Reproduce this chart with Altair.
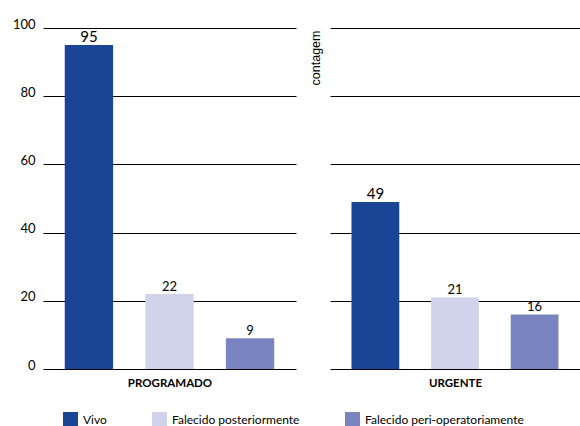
import altair as alt
import pandas as pd

groups = ["PROGRAMADO", "URGENTE"]
categories = ["Vivo", "Falecido posteriormente", "Falecido peri-operatoriamente"]
programado = [95, 22, 9]
urgente = [49, 21, 16]
colors = ["#1a4496", "#d0d3eb", "#7a84c0"]
y_ticks = [0, 20, 40, 60, 80, 100]

rows = []
for g, vals in zip(groups, [programado, urgente]):
    for c, v in zip(categories, vals):
        rows.append({"grupo": g, "cat": c, "contagem": v})
df = pd.DataFrame(rows)

legend = alt.Legend(orient="none", legendX=20, legendY=384, direction="horizontal",
                    title=None, symbolType="square", symbolSize=225, symbolStrokeWidth=0,
                    labelFont="Lato", labelFontSize=12, columnPadding=45, labelOffset=5,
                    labelColor="black", labelLimit=300)


def panel(g, first, width):
    base = alt.Chart(df).transform_filter(alt.datum.grupo == g)
    x = alt.X("cat:N", sort=categories,
              scale=alt.Scale(paddingInner=0.4, paddingOuter=0.27),
              axis=alt.Axis(labels=False, ticks=False, domain=False, title=g,
                            titleFont="Lato", titleFontWeight="bold", titleFontSize=11.5,
                            titlePadding=8, titleColor="black"))
    if first:
        yaxis = alt.Axis(values=y_ticks, title=None, labelBaseline="alphabetic",
                         labelPadding=8, ticks=False, domain=False, grid=True,
                         gridColor="black", gridOpacity=1, labelFont="Lato", labelFontSize=13,
                         minExtent=38, maxExtent=38, labelColor="black")
    else:
        yaxis = alt.Axis(values=y_ticks, labels=False, ticks=False, domain=False, grid=True,
                         gridColor="black", gridOpacity=1, title="contagem", titleX=-15,
                         titleY=2, titleAngle=270, titleAlign="right", titleBaseline="middle",
                         titleFont="Liberation Sans", titleFontWeight="normal",
                         titleFontSize=12.5, titleColor="black")
    y = alt.Y("contagem:Q", scale=alt.Scale(domain=[0, 100]), axis=yaxis)
    bars = base.mark_bar().encode(
        x=x, y=y,
        color=alt.Color("cat:N", sort=categories,
                        scale=alt.Scale(domain=categories, range=colors), legend=legend))
    text = base.mark_text(dy=-3, baseline="alphabetic", font="Lato", color="black").encode(
        x=alt.X("cat:N", sort=categories),
        y=alt.Y("contagem:Q"),
        text="contagem:Q",
        size=alt.condition("datum.cat == 'Vivo'", alt.value(15), alt.value(13)))
    return alt.layer(bars, text).properties(width=width, height=341)


chart = alt.hconcat(panel("PROGRAMADO", True, 253), panel("URGENTE", False, 250),
                    spacing=34, bounds="flush").properties(
    padding={"left": 5, "top": 18, "right": 0, "bottom": 0}
).configure_view(stroke=None)

chart.save("out.html", embed_options={"renderer": "svg", "actions": False})
